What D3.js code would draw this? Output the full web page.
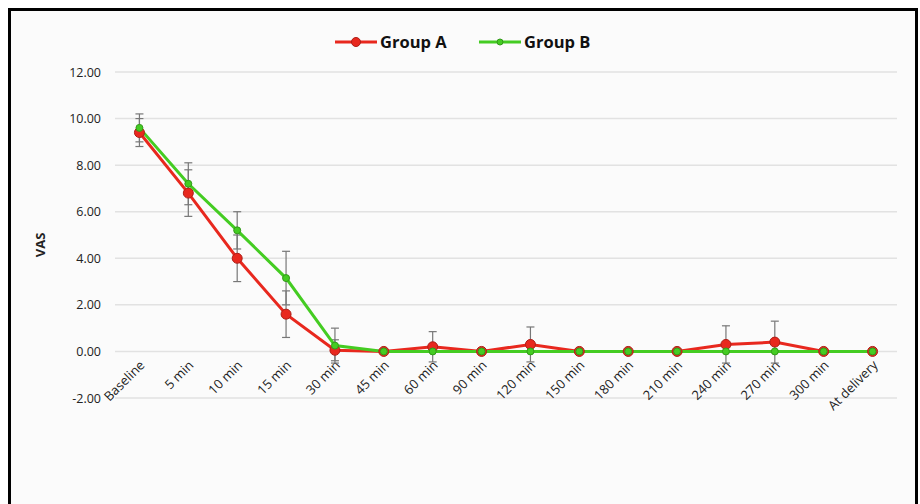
<!DOCTYPE html>
<html>
<head>
<meta charset="utf-8">
<script src="https://cdn.jsdelivr.net/npm/d3@7"></script>
<style>
body { margin: 0; background: #fff; }
text { font-family: "Open Sans", "Liberation Sans", sans-serif; }
</style>
</head>
<body>
<div id="chart"></div>
<script>
const categories = ["Baseline", "5 min", "10 min", "15 min", "30 min", "45 min", "60 min", "90 min",
	"120 min", "150 min", "180 min", "210 min", "240 min", "270 min", "300 min", "At delivery"];
const groupA = [9.4, 6.8, 4.0, 1.6, 0.05, 0, 0.2, 0, 0.3, 0, 0, 0, 0.3, 0.4, 0, 0];
const groupAErr = [0.6, 1.0, 1.0, 1.0, 0.45, 0, 0.65, 0, 0.75, 0, 0, 0, 0.8, 0.9, 0, 0];
const groupB = [9.6, 7.2, 5.2, 3.15, 0.25, 0, 0, 0, 0, 0, 0, 0, 0, 0, 0, 0];
const groupBErr = [0.6, 0.9, 0.8, 1.15, 0.75, 0, 0, 0, 0, 0, 0, 0, 0, 0, 0, 0];
const yTicks = [-2, 0, 2, 4, 6, 8, 10, 12];

const series = [
	{name: "Group A", values: groupA, err: groupAErr, color: "#e8281e", r: 5},
	{name: "Group B", values: groupB, err: groupBErr, color: "#44cc22", r: 3.5}
];

var width = 920, height = 504;
var svg = d3.select("#chart").append("svg")
	.attr("width", width)
	.attr("height", height)

// frame
svg.append("rect")
	.attr("x", 9.5).attr("y", 9.5)
	.attr("width", 907).attr("height", 500)
	.attr("fill", "#fbfbfb")
	.attr("stroke", "#000")
	.attr("stroke-width", 3)

var x = d3.scaleBand()
	.domain(categories)
	.range([115, 897])

var y = d3.scaleLinear()
	.domain([-2, 12])
	.range([398, 72])

// gridlines
svg.append("g")
	.selectAll("line")
	.data(yTicks)
	.enter().append("line")
	.attr("x1", 115).attr("x2", 897)
	.attr("y1", function(d){ return y(d) })
	.attr("y2", function(d){ return y(d) })
	.attr("stroke", "#e2e2e2")
	.attr("stroke-width", 1.5)

// y axis labels (plain hyphen for negatives, like the original)
var yAxis = svg.append("g")
	.attr("transform", "translate(101,0)")
	.call(d3.axisLeft(y).tickValues(yTicks).tickSize(0).tickPadding(0)
		.tickFormat(function(d){ return d.toFixed(2) }))
yAxis.select(".domain").remove()
yAxis.selectAll("text")
	.attr("font-size", 12.5)
	.attr("fill", "#222")
	.style("font-family", "'Open Sans', sans-serif")

svg.append("text")
	.attr("transform", "translate(45,245) rotate(-90)")
	.attr("text-anchor", "middle")
	.attr("font-size", 13)
	.attr("font-weight", "bold")
	.attr("fill", "#222")
	.text("VAS")

// x labels
svg.append("g")
	.selectAll("text")
	.data(categories)
	.enter().append("text")
	.attr("transform", function(d){
		return "translate(" + (x(d) + x.bandwidth()/2 + 6) + ",366) rotate(-45)"
	})
	.attr("text-anchor", "end")
	.attr("font-size", 13)
	.attr("fill", "#222")
	.text(function(d){ return d })

// error bars
series.slice().reverse().forEach(function(s){
	var eb = svg.append("g")
	categories.forEach(function(c, i){
		if(!s.err[i]) return
		var cx = x(c) + x.bandwidth()/2
		var top = y(s.values[i] + s.err[i]), bot = y(s.values[i] - s.err[i])
		eb.append("line").attr("x1", cx).attr("x2", cx).attr("y1", top).attr("y2", bot)
			.attr("stroke", "#777").attr("stroke-width", 1.2)
		eb.append("line").attr("x1", cx - 4).attr("x2", cx + 4).attr("y1", top).attr("y2", top)
			.attr("stroke", "#777").attr("stroke-width", 1.2)
		eb.append("line").attr("x1", cx - 4).attr("x2", cx + 4).attr("y1", bot).attr("y2", bot)
			.attr("stroke", "#777").attr("stroke-width", 1.2)
	})
})

var line = d3.line()
	.x(function(d, i){ return x(categories[i]) + x.bandwidth()/2 })
	.y(function(d){ return y(d) })

// draw A first, then B on top
series.forEach(function(s){
	svg.append("path")
		.datum(s.values)
		.attr("d", line)
		.attr("fill", "none")
		.attr("stroke", s.color)
		.attr("stroke-width", 3)
})
series.forEach(function(s){
	svg.append("g")
		.selectAll("circle")
		.data(s.values)
		.enter().append("circle")
		.attr("cx", function(d, i){ return x(categories[i]) + x.bandwidth()/2 })
		.attr("cy", function(d){ return y(d) })
		.attr("r", s.r)
		.attr("fill", s.color)
		.attr("stroke", d3.color(s.color).darker(0.8))
		.attr("stroke-width", 1)
})

// legend
var legendX = [335, 479];
series.forEach(function(s, i){
	var g = svg.append("g").attr("transform", "translate(" + legendX[i] + ",42)")
	g.append("line").attr("x1", 0).attr("x2", 42).attr("y1", 0).attr("y2", 0)
		.attr("stroke", s.color).attr("stroke-width", 3)
	g.append("circle").attr("cx", 21).attr("cy", 0).attr("r", i == 0 ? 4.5 : 3)
		.attr("fill", s.color).attr("stroke", d3.color(s.color).darker(0.8))
	g.append("text").attr("x", 45).attr("y", 6)
		.attr("font-size", 16.5).attr("font-weight", "bold").attr("fill", "#111")
		.text(s.name)
})
</script>
</body>
</html>
